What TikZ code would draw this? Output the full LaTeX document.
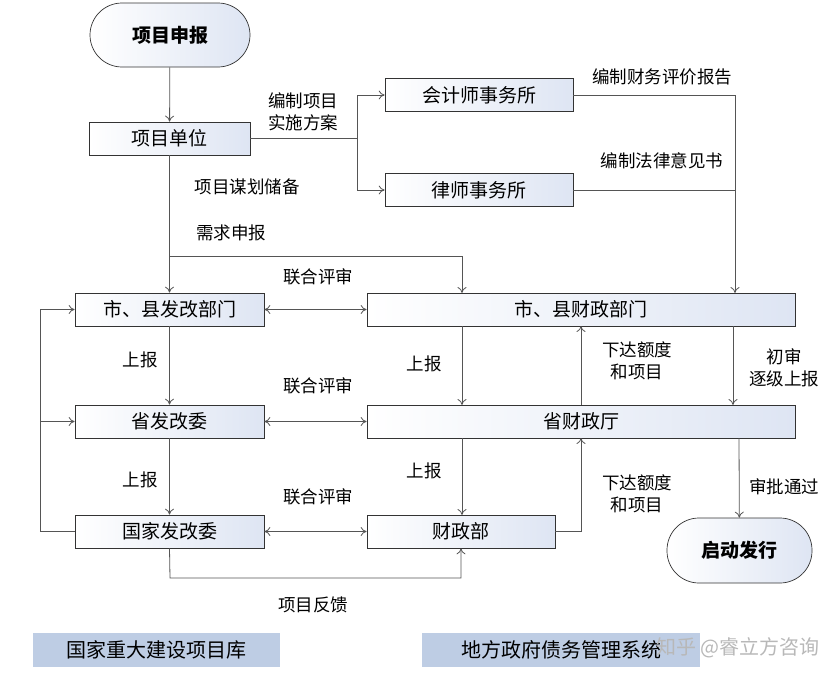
\documentclass[tikz,border=0pt]{standalone}
\usepackage{fontspec}
\setmainfont{Noto Sans CJK SC}
\usetikzlibrary{arrows.meta}
\definecolor{ln}{RGB}{85,85,85}
\definecolor{bx}{RGB}{222,229,243}
\definecolor{lb}{RGB}{190,205,228}
\begin{document}
\begin{tikzpicture}[x=1pt,y=-1pt,
 box/.style={draw=black!80,line width=0.7pt,left color=white,right color=bx,minimum height=33pt,inner sep=0pt,font=\fontsize{19}{22}\selectfont},
 term/.style={draw=black!80,line width=0.7pt,left color=white,right color=bx,rounded corners=32pt,minimum height=64pt,inner sep=0pt,font=\fontsize{19}{22}\selectfont\bfseries},
 lab/.style={font=\fontsize{17.5}{22}\selectfont,align=center,inner sep=0pt},
 ar/.style={draw=ln,line width=0.8pt,-{To[length=6pt,width=9pt]}},
 ln/.style={draw=ln,line width=0.8pt},
 foot/.style={fill=lb,minimum height=34pt,inner sep=0pt,font=\fontsize{20}{24}\selectfont}]
\useasboundingbox (0,0) rectangle (831,680);
\node[term,minimum width=160pt] (sb) at (170,35) {项目申报};
\node[box,minimum width=161pt] (dw) at (169.5,138.5) {项目单位};
\node[box,minimum width=188pt] (kj) at (479,95) {会计师事务所};
\node[box,minimum width=188pt] (ls) at (479,190) {律师事务所};
\node[box,minimum width=189pt] (fg1) at (169.5,309.5) {市、县发改部门};
\node[box,minimum width=428pt] (cz1) at (581,309.5) {市、县财政部门};
\node[box,minimum width=189pt] (fg2) at (169.5,421.5) {省发改委};
\node[box,minimum width=428pt] (cz2) at (581,421.5) {省财政厅};
\node[box,minimum width=189pt] (fg3) at (169.5,531.5) {国家发改委};
\node[box,minimum width=188pt] (cz3) at (461,531.5) {财政部};
\node[term,minimum width=145pt,minimum height=65pt] (qd) at (739.5,550.5) {启动发行};
\node[foot,minimum width=247pt] (k1) at (156.5,650) {国家重大建设项目库};
\node[foot,minimum width=278pt] (k2) at (561,650) {地方政府债务管理系统};
\node[font=\fontsize{20}{24}\selectfont,text=black!28] (wm) at (738,648) {知乎 @睿立方咨询};
% top
\draw[ar] (sb) -- (dw);
\coordinate (br) at (357,138.5);
\draw[ln] (dw.east) -- (br);
\draw[ar] (br) |- (kj.west);
\draw[ar] (br) |- (ls.west);
\node[lab] (l1) at (303,112) {编制项目\\实施方案};
\coordinate (jr) at (735,95);
\draw[ln] (kj.east) -- (jr);
\draw[ln] (ls.east) -- (735,190);
\draw[ar] (jr) -- (735,293);
\node[lab] (l2) at (662,77) {编制财务评价报告};
\node[lab] (l3) at (662,161) {编制法律意见书};
\draw[ar] (dw) -- (fg1);
\coordinate (xq) at (170,256);
\draw[ar] (xq) -| (462,293);
\node[lab] (l4) at (247,187) {项目谋划储备};
\node[lab] (l5) at (231,233) {需求申报};
% horizontal
\draw[ar,{To[length=6pt,width=9pt]}-{To[length=6pt,width=9pt]}] (fg1) -- (cz1);
\draw[ar,{To[length=6pt,width=9pt]}-{To[length=6pt,width=9pt]}] (fg2) -- (cz2);
\draw[ar,{To[length=6pt,width=9pt]}-{To[length=6pt,width=9pt]}] (fg3) -- (cz3);
\node[lab] (l6) at (318,277) {联合评审};
\node[lab] (l7) at (318,386) {联合评审};
\node[lab] (l8) at (318,497) {联合评审};
% verticals
\draw[ar] (fg1) -- (fg2);
\draw[ar] (fg2) -- (fg3);
\node[lab] (l9) at (140,360) {上报};
\node[lab] (l10) at (140,480) {上报};
\draw[ar] (462,326) -- (462,405);
\draw[ar] (462,438) -- (462,515);
\node[lab] (l11) at (424,364) {上报};
\node[lab] (l12) at (424,471) {上报};
\draw[ar] (581,405) -- (581,326);
\draw[ar] (cz3.east) -| (581,438);
\node[lab] (l13) at (637,361) {下达额度\\和项目};
\node[lab] (l14) at (637,494) {下达额度\\和项目};
\draw[ar] (733,326) -- (733,405);
\node[lab] (l15) at (784,368) {初审\\逐级上报};
\draw[ar] (739,438) -- (qd);
\node[lab] (l16) at (784,487) {审批通过};
% left loop
\coordinate (lp) at (40,531.5);
\draw[ln] (fg3.west) -- (lp);
\draw[ar] (lp) |- (fg1.west);
\draw[ar] (40,421.5) -- (fg2.west);
% feedback
\draw[ar] (fg3.south) -- (170,578) -| (cz3.south);
\node[lab] (l17) at (313,605) {项目反馈};
\end{tikzpicture}
\end{document}
